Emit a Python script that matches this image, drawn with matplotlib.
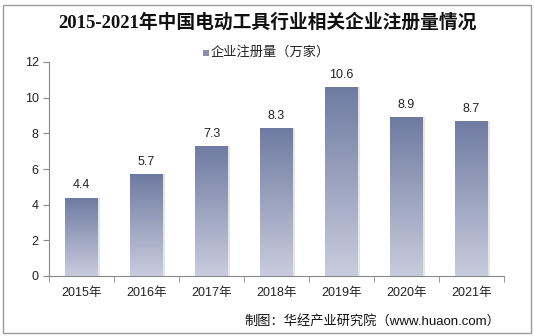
import matplotlib.pyplot as plt
import numpy as np
from matplotlib.patches import Rectangle

plt.rcParams['font.family'] = ['Liberation Sans', 'Noto Sans CJK SC', 'DejaVu Sans']

years = ["2015年", "2016年", "2017年", "2018年", "2019年", "2020年", "2021年"]
values = [4.4, 5.7, 7.3, 8.3, 10.6, 8.9, 8.7]
yticks = [0, 2, 4, 6, 8, 10, 12]

fig = plt.figure(figsize=(5.34, 3.36), dpi=100)
ax = fig.add_axes([49 / 534, 1 - 276 / 336, (504 - 49) / 534, (276 - 62) / 336])

# vertical gradient, dark on top, light at bottom
top = np.array([0.43, 0.48, 0.63])
bot = np.array([0.79, 0.80, 0.87])
t = np.linspace(0, 1, 256)[:, None]
grad = (top * (1 - t) + bot * t)[:, None, :]
grad = np.repeat(grad, 2, axis=1)

w = 0.5
for i, v in enumerate(values):
    # soft shadow on the right
    sh = Rectangle((i - w / 2 + 0.03, 0), w, v, facecolor="#000000", alpha=0.1,
                   edgecolor="none", zorder=1)
    ax.add_patch(sh)
    rect = Rectangle((i - w / 2, 0), w, v, facecolor="none", edgecolor="none", zorder=2)
    ax.add_patch(rect)
    im = ax.imshow(grad, extent=(i - w / 2, i + w / 2, 0, v), aspect="auto",
                   zorder=2, interpolation="bilinear")
    im.set_clip_path(rect)
    ax.text(i, v + 0.35, f"{v:.1f}", ha="center", va="bottom", fontsize=9,
            color="#222222")

ax.set_xlim(-0.5, len(values) - 0.5)
ax.set_ylim(0, 12)
ax.set_yticks(yticks)
ax.set_xticks(range(len(years)))
ax.set_xticklabels(years)
ax.tick_params(axis="x", length=0, labelsize=9, pad=8, colors="#222222")
ax.tick_params(axis="y", length=4, direction="out", labelsize=9, colors="#222222")
ax.set_xticks(np.arange(-0.5, len(values), 1), minor=True)
ax.tick_params(axis="x", which="minor", length=4, direction="out", color="#888888")
for s in ["top", "right"]:
    ax.spines[s].set_visible(False)
ax.spines["left"].set_color("#888888")
ax.spines["bottom"].set_color("#888888")
ax.tick_params(axis="y", color="#888888")

fig.text(0.5, 1 - 22 / 336, "2015-2021年中国电动工具行业相关企业注册量情况",
         ha="center", va="center", fontsize=13.5, fontweight="bold", color="#111111",
         family=["Liberation Serif", "Noto Sans CJK SC"])
fig.patches.append(Rectangle((203 / 534, 1 - 56 / 336), 6 / 534, 6 / 336,
                             transform=fig.transFigure, facecolor="#8a90a8",
                             edgecolor="none"))
fig.text(211 / 534, 1 - 52 / 336, "企业注册量（万家）", ha="left", va="center",
         fontsize=9.5, color="#222222")
fig.text(500 / 534, 1 - 321 / 336, "制图：华经产业研究院（www.huaon.com）",
         ha="right", va="center", fontsize=9.5, color="#111111")

fig.patches.append(Rectangle((3 / 534, 3 / 336), 528 / 534, 328 / 336,
                             transform=fig.transFigure, facecolor="none",
                             edgecolor="#999999", linewidth=1))

fig.savefig("out.png", dpi=100)
